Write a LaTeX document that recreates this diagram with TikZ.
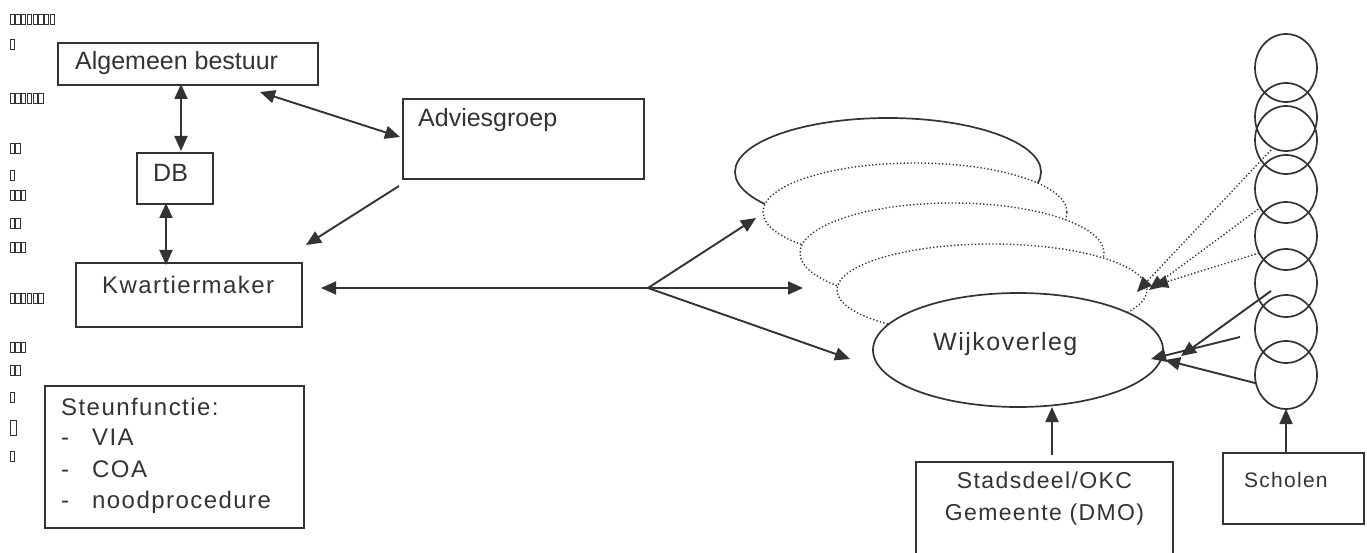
\documentclass[tikz,border=0pt]{standalone}
\usepackage{fontspec}
\setmainfont{Liberation Sans}
\newfontfamily\uni[LetterSpace=6]{Liberation Sans}
\usetikzlibrary{arrows.meta,shapes.geometric,calc}
\definecolor{ink}{RGB}{51,51,51}
\tikzset{
  box/.style={draw=ink, line width=1.9pt, rectangle, inner sep=0pt, outer sep=0pt},
  ell/.style={draw=ink, ellipse, fill=white, line width=1.7pt, inner sep=0pt, outer sep=0pt},
  dotell/.style={ell, dash pattern=on 1.3pt off 2.2pt, line width=1.4pt},
  circ/.style={draw=ink, ellipse, minimum width=62pt, minimum height=68pt, line width=1.7pt, inner sep=0pt},
  tip/.style={-{Triangle[length=15pt,width=13pt]}},
  arr/.style={draw=ink, line width=1.9pt, tip},
  darr/.style={draw=ink, line width=1.9pt, {Triangle[length=15pt,width=13pt]}-{Triangle[length=15pt,width=13pt]}},
  dotarr/.style={draw=ink, line width=1.4pt, dash pattern=on 1.3pt off 2.2pt, tip},
  lbl/.style={text=ink, inner sep=0pt, anchor=base west},
  ari/.style={lbl, font=\fontsize{25}{30}\selectfont},
  unf/.style={lbl, font=\uni\fontsize{24}{30}\selectfont},
  tofu/.style={draw=ink, line width=0.9pt}
}
\begin{document}
\begin{tikzpicture}[x=1pt,y=-1pt]
\useasboundingbox (0,0) rectangle (1367,553);

% missing-glyph boxes at left
\foreach \yy/\nn in {14/8,39/1,93/6,143/2,170/1,190/3,218/2,242/3,293/6,342/3,365/2,392/1,451/1}{
  \foreach \ii in {1,...,\nn}{
    \draw[tofu] ({10+(\ii-1)*5.75},\yy) rectangle ++(4.3,10.5);
  }
}
\draw[tofu] (10,420) rectangle ++(6,15);

% boxes
\node[box, minimum width=260pt, minimum height=42pt] (ab) at (188,64) {};
\node[ari] (abt) at (75,70) {Algemeen bestuur};
\node[box, minimum width=76pt, minimum height=51pt] (db) at (175,178.5) {};
\node[ari] (dbt) at (153,182) {DB};
\node[box, minimum width=226pt, minimum height=64pt] (km) at (189,295) {};
\node[unf] (kmt) at (102,293) {Kwartiermaker};
\node[box, minimum width=241pt, minimum height=80pt] (adv) at (523.5,139) {};
\node[ari] (advt) at (418,127) {Adviesgroep};
\node[box, minimum width=259pt, minimum height=142pt] (st) at (174.5,457) {};
\node[unf] (st1) at (61,415) {Steunfunctie:};
\node[unf] (st2a) at (61,445) {-};
\node[unf] (st2) at (92,445) {VIA};
\node[unf] (st3a) at (61,477) {-};
\node[unf] (st3) at (92,477) {COA};
\node[unf] (st4a) at (61,508) {-};
\node[unf] (st4) at (92,508) {noodprocedure};

% stacked ellipses
\node[ell, minimum width=306pt, minimum height=108pt] (e1) at (888,172) {};
\node[dotell, minimum width=304pt, minimum height=98pt] (e2) at (915,212) {};
\node[dotell, minimum width=304pt, minimum height=100pt] (e3) at (952,253) {};
\node[dotell, minimum width=310pt, minimum height=92pt] (e4) at (992,290) {};
\node[ell, minimum width=290pt, minimum height=114pt] (w) at (1018,350) {};
\node[unf, font=\uni\fontsize{25}{30}\selectfont] (wt) at (933,350) {Wijkoverleg};

% schools column
\foreach \cy [count=\k] in {68,117,140,189,236,283,329,375}{
  \node[circ] (c\k) at (1286,\cy) {};
}

% bottom boxes
\node[box, minimum width=257pt, minimum height=96pt] (sd) at (1044.5,510) {};
\node[unf, anchor=base, font=\uni\fontsize{23}{28}\selectfont] (sd1) at (1044.5,488) {Stadsdeel/OKC};
\node[unf, anchor=base, font=\uni\fontsize{23}{28}\selectfont] (sd2) at (1044.5,520) {Gemeente (DMO)};
\node[box, minimum width=141pt, minimum height=71pt] (sch) at (1293.5,488.5) {};
\node[unf, font=\uni\fontsize{21}{26}\selectfont] (scht) at (1244,487) {Scholen};

% connector end points
\coordinate (abB) at (181,84);
\coordinate (dbT) at (181,151);
\coordinate (dbB) at (166,203);
\coordinate (kmT) at (166,265);
\coordinate (abR) at (260,92);
\coordinate (advL) at (400,137);
\coordinate (advB) at (399,186);
\coordinate (kmR) at (306,245);
\coordinate (kmE) at (321,288);
\coordinate (hub) at (648,288);
\coordinate (e2L) at (756,218);
\coordinate (e4L) at (803,288);
\coordinate (wL) at (850,359);
\coordinate (wB) at (1052,407);
\coordinate (sdT) at (1052,455);
\coordinate (c8B) at (1286,409);
\coordinate (schT) at (1286,453);
\coordinate (c3p) at (1271,150);
\coordinate (c4p) at (1261,207);
\coordinate (c5p) at (1259,253);
\coordinate (c6p) at (1271,291);
\coordinate (c7p) at (1240,337);
\coordinate (c8p) at (1255,383);
\coordinate (wR1) at (1137,292);
\coordinate (wR2) at (1149,290);
\coordinate (wR3) at (1153,286);
\coordinate (wR4) at (1181,356);
\coordinate (wR5) at (1151,359);
\coordinate (wR6) at (1165,360);

% connectors
\draw[darr] (abB) -- (dbT);
\draw[darr] (dbB) -- (kmT);
\draw[darr] (abR) -- (advL);
\draw[arr] (advB) -- (kmR);
\draw[arr, {Triangle[length=15pt,width=13pt]}-] (kmE) -- (hub);
\draw[arr] (hub) -- (e2L);
\draw[arr] (hub) -- (e4L);
\draw[arr] (hub) -- (wL);
\draw[arr] (sdT) -- (wB);
\draw[arr] (schT) -- (c8B);
\draw[dotarr] (c3p) -- (wR1);
\draw[dotarr] (c4p) -- (wR2);
\draw[dotarr] (c5p) -- (wR3);
\draw[arr] (c6p) -- (wR4);
\draw[arr] (c7p) -- (wR5);
\draw[arr] (c8p) -- (wR6);
\end{tikzpicture}
\end{document}
